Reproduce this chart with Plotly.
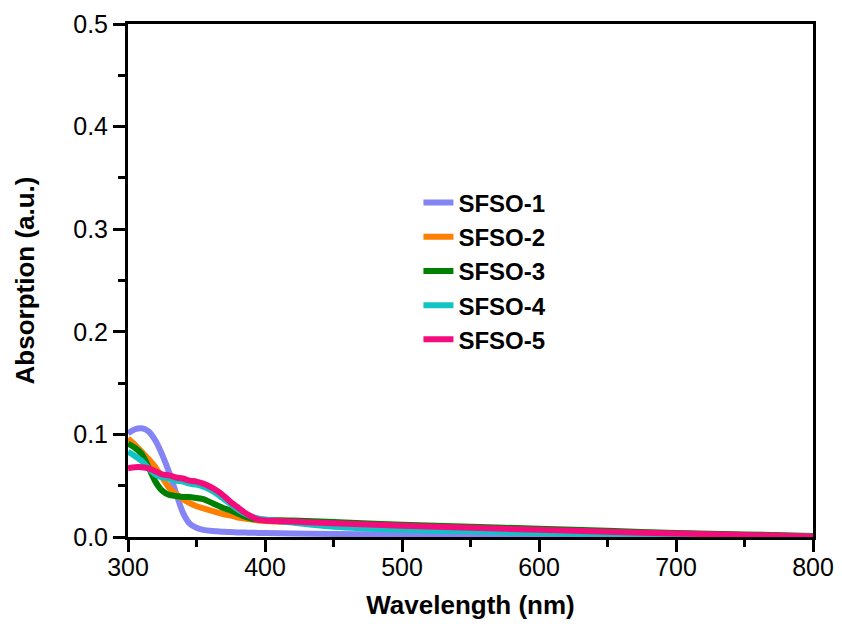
import plotly.graph_objects as go

wavelength = [300, 305, 310, 315, 320, 325, 330, 335, 340, 345, 350, 355, 360, 365, 370,
              375, 380, 385, 390, 395, 400, 420, 450, 500, 550, 600, 650, 700, 750, 800]

sfso_1 = [0.101, 0.105, 0.106, 0.103, 0.094, 0.080, 0.063, 0.043, 0.024, 0.013, 0.009, 0.007,
          0.006, 0.0055, 0.005, 0.0048, 0.0045, 0.0043, 0.0042, 0.004, 0.004, 0.0035, 0.003,
          0.0025, 0.002, 0.0015, 0.001, 0.0008, 0.0005, 0.0002]
sfso_2 = [0.096, 0.090, 0.083, 0.076, 0.068, 0.058, 0.048, 0.042, 0.037, 0.033, 0.030, 0.028,
          0.026, 0.024, 0.022, 0.021, 0.019, 0.018, 0.017, 0.016, 0.0155, 0.0145, 0.013,
          0.0105, 0.0085, 0.0065, 0.005, 0.0035, 0.002, 0.0005]
sfso_3 = [0.091, 0.087, 0.081, 0.068, 0.054, 0.045, 0.041, 0.040, 0.039, 0.039, 0.038, 0.037,
          0.034, 0.031, 0.028, 0.026, 0.023, 0.020, 0.018, 0.017, 0.0165, 0.016, 0.0145,
          0.012, 0.010, 0.008, 0.006, 0.004, 0.0025, 0.001]
sfso_4 = [0.083, 0.079, 0.074, 0.067, 0.061, 0.058, 0.057, 0.055, 0.054, 0.052, 0.051, 0.049,
          0.046, 0.042, 0.037, 0.032, 0.027, 0.023, 0.020, 0.018, 0.017, 0.014, 0.010,
          0.007, 0.0055, 0.004, 0.003, 0.002, 0.001, 0.0005]
sfso_5 = [0.067, 0.068, 0.068, 0.067, 0.064, 0.061, 0.060, 0.058, 0.057, 0.055, 0.054, 0.052,
          0.049, 0.045, 0.040, 0.034, 0.029, 0.024, 0.020, 0.017, 0.016, 0.015, 0.0135,
          0.011, 0.009, 0.007, 0.005, 0.0035, 0.002, 0.0005]

series_names = ["SFSO-1", "SFSO-2", "SFSO-3", "SFSO-4", "SFSO-5"]
series_values = [sfso_1, sfso_2, sfso_3, sfso_4, sfso_5]
colors = ["#8484F4", "#FF8000", "#008000", "#10C4C4", "#F50C7C"]

fig = go.Figure()
for name, vals, col in zip(series_names, series_values, colors):
    fig.add_trace(go.Scatter(
        x=wavelength, y=vals, name=name, mode="lines",
        line=dict(color=col, width=6, shape="spline", smoothing=0.6),
    ))

font_family = "Liberation Sans, Arial, sans-serif"

fig.update_layout(
    width=826, height=612,
    margin=dict(l=120, r=21, t=16, b=83, autoexpand=False),
    paper_bgcolor="white", plot_bgcolor="white",
    font=dict(family=font_family, size=25, color="black"),
    legend=dict(
        x=0.424, y=0.695, xanchor="left", yanchor="top",
        bgcolor="rgba(0,0,0,0)", borderwidth=0,
        font=dict(family=font_family, size=24, color="black", weight="bold"),
        tracegroupgap=0,
    ),
    showlegend=True,
)

axis_common = dict(
    showline=True, linecolor="black", linewidth=3, mirror=True,
    ticks="outside", ticklen=12, tickwidth=3, tickcolor="black",
    showgrid=False, zeroline=False, automargin=False,
    tickfont=dict(family=font_family, size=25, color="black"),
)

fig.update_xaxes(
    range=[300, 800], dtick=100, tick0=300,
    ticklabelstandoff=-6,
    title=dict(text="Wavelength (nm)", standoff=30,
               font=dict(family=font_family, size=26, color="black", weight="bold")),
    minor=dict(ticks="outside", ticklen=7, tickwidth=3, tickcolor="black", dtick=50, showgrid=False),
    **axis_common,
)
fig.update_yaxes(
    range=[0, 0.5], dtick=0.1, tick0=0, tickformat=".1f",
    title=dict(text="Absorption (a.u.)", standoff=32,
               font=dict(family=font_family, size=26, color="black", weight="bold")),
    minor=dict(ticks="outside", ticklen=7, tickwidth=3, tickcolor="black", dtick=0.05, showgrid=False),
    **axis_common,
)

fig.write_html("out.html")
